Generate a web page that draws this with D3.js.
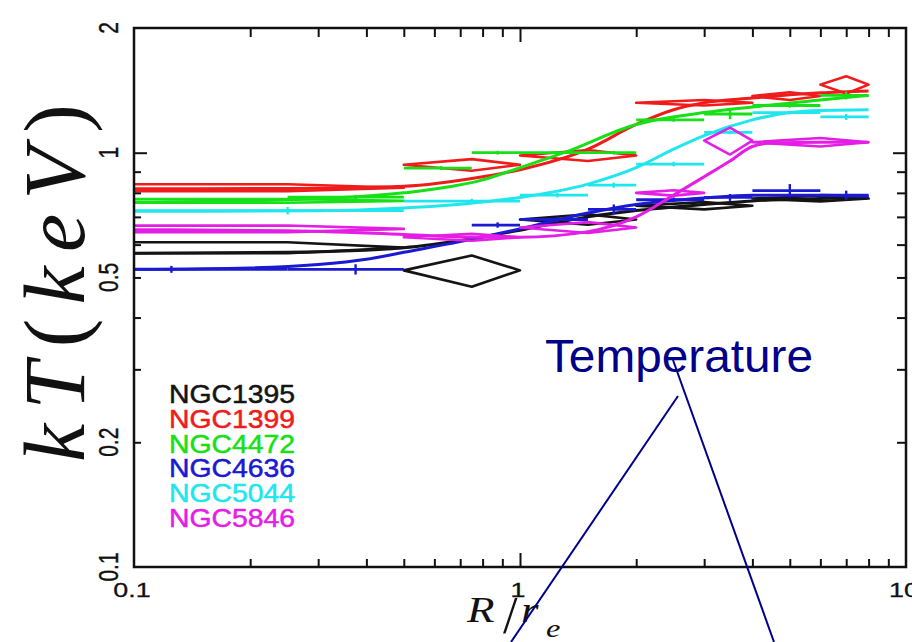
<!DOCTYPE html>
<html><head><meta charset="utf-8">
<script src="https://cdn.jsdelivr.net/npm/d3@7"></script>
<style>html,body{margin:0;padding:0;background:#fff;overflow:hidden}</style>
</head><body><svg id="c" width="912" height="642"></svg>
<script>
// ---------------- data ----------------
const galaxies = ["NGC1395","NGC1399","NGC4472","NGC4636","NGC5044","NGC5846"];
const colors   = ["#141414","#f01c1c","#16e016","#1a1ad2","#20e6ee","#e41ee4"];

// diamonds: [rmin, rmax, kT, err]   (rmin 0 => starts at centre)
const diamonds_NGC1395 = [[0,0.5,0.59,0.018],[0.5,1,0.52,0.045],[1,2,0.69,0.02],[2,4,0.745,0.015],[4,8,0.775,0.012]];
const diamonds_NGC1399 = [[0,0.5,0.823,0.016],[0.5,1,0.935,0.03],[1,2,0.985,0.03],[2,4,1.32,0.02],[4,6,1.37,0.03],[6,8,1.46,0.07]];
const diamonds_NGC4472 = [[0,0.5,0.765,0.008]];
const diamonds_NGC4636 = [];
const diamonds_NGC5044 = [];
const diamonds_NGC5846 = [[0,0.5,0.655,0.012],[0.5,1,0.625,0.012],[1,2,0.66,0.02],[2,3,0.80,0.012],[3,4,1.07,0.08],[4,8,1.06,0.025]];

// projected model bars: [rmin, rmax, kT, tick half-height]
const bars_NGC1395 = [];
const bars_NGC1399 = [];
const bars_NGC4472 = [[0.25,0.5,0.781,0.01],[0.5,0.75,0.918,0.01],[0.75,1,1.0,0.01],[1,1.5,1.0,0.01],[1.5,2,1.0,0.01],[2,3,1.2,0.012],[3,4,1.24,0.035],[4,6,1.3,0.015],[6,8,1.375,0.03]];
const bars_NGC4636 = [[0,0.25,0.523,0.01],[0.25,0.5,0.523,0.015],[0.75,1,0.669,0.01],[1,1.5,0.69,0.01],[1.5,2,0.73,0.02],[2,3,0.77,0.01],[3,4,0.78,0.015],[4,6,0.81,0.03],[6,8,0.79,0.02]];
const bars_NGC5044 = [[0,0.5,0.725,0.015],[0.5,1,0.764,0.01],[1,1.5,0.79,0.01],[1.5,2,0.835,0.012],[2,3,0.939,0.012],[3,4,1.12,0.012],[4,6,1.25,0.012],[6,8,1.22,0.02]];
const bars_NGC5846 = [];

// smooth model curves: [r, kT]
const curve_NGC1395 = [[0.1,0.572],[0.25,0.575],[0.5,0.59],[0.75,0.62],[1,0.65],[1.5,0.70],[2,0.725],[3,0.75],[4,0.765],[6,0.775],[8,0.78]];
const curve_NGC1399 = [[0.1,0.818],[0.25,0.82],[0.5,0.83],[0.8,0.875],[1,0.91],[1.5,1.02],[2,1.17],[2.5,1.27],[3,1.32],[4,1.355],[5,1.38],[6,1.395],[8,1.41]];
const curve_NGC4472 = [[0.1,0.76],[0.25,0.77],[0.5,0.80],[0.8,0.86],[1,0.92],[1.3,1.0],[2,1.17],[3,1.25],[4,1.29],[6,1.34],[8,1.375]];
const curve_NGC4636 = [[0.1,0.523],[0.2,0.527],[0.3,0.537],[0.4,0.553],[0.5,0.575],[0.7,0.61],[1,0.655],[1.5,0.715],[2,0.75],[3,0.778],[4,0.79],[6,0.79],[8,0.785]];
const curve_NGC5044 = [[0.1,0.722],[0.3,0.724],[0.5,0.735],[0.8,0.76],[1,0.78],[1.5,0.84],[2,0.92],[2.5,1.02],[3,1.1],[4,1.2],[5,1.25],[6,1.265],[8,1.27]];
const curve_NGC5846 = [[0.1,0.652],[0.25,0.648],[0.5,0.635],[0.8,0.625],[1,0.625],[1.5,0.645],[2,0.70],[2.5,0.79],[3,0.875],[3.5,0.955],[4,1.035],[4.5,1.055],[6,1.06],[8,1.06]];

const xMajorTicks = [1];
const xMinorTicks = [0.2,0.3,0.4,0.5,0.6,0.7,0.8,0.9,2,3,4,5,6,7,8,9];
const xTickLabels = [[0.1,"0.1"],[1,"1"],[10,"10"]];
const yMajorTicks = [1];
const yMinorTicks = [0.2,0.3,0.4,0.5,0.6,0.7,0.8,0.9];
const yTickLabels = [[0.1,"0.1"],[0.2,"0.2"],[0.5,"0.5"],[1,"1"],[2,"2"]];

// ---------------- drawing ----------------
const svg = d3.select("#c");
const x = d3.scaleLog().domain([0.1,10]).range([134,906]);
const y = d3.scaleLog().domain([0.1,2]).range([567,28]);

svg.append("rect").attr("width",912).attr("height",642).attr("fill","#fff");
svg.append("defs").append("clipPath").attr("id","pc")
  .append("rect").attr("x",134).attr("y",28).attr("width",772).attr("height",539);

const diamondsAll = [diamonds_NGC1395,diamonds_NGC1399,diamonds_NGC4472,diamonds_NGC4636,diamonds_NGC5044,diamonds_NGC5846];
const barsAll = [bars_NGC1395,bars_NGC1399,bars_NGC4472,bars_NGC4636,bars_NGC5044,bars_NGC5846];
const curvesAll = [curve_NGC1395,curve_NGC1399,curve_NGC4472,curve_NGC4636,curve_NGC5044,curve_NGC5846];

const g = svg.append("g").attr("clip-path","url(#pc)");
const leftX = x.range()[0] - 30;

function diamondPts(d){
  const [r0,r1,t,e] = d, m = (r0+r1)/2;
  const xm = x(m), xr = x(r1);
  if (r0 > 0) { const xl = x(r0); return [[xl,y(t)],[xm,y(t+e)],[xr,y(t)],[xm,y(t-e)]]; }
  return [[leftX,y(t+e)],[xm,y(t+e)],[xr,y(t)],[xm,y(t-e)],[leftX,y(t-e)]];
}
const curveLine = d3.line().x(d=>x(d[0])).y(d=>y(d[1])).curve(d3.curveMonotoneX);

galaxies.forEach((name,i)=>{
  const c = colors[i];
  const gg = g.append("g").attr("class",name);
  gg.selectAll("path.dia").data(diamondsAll[i]).join("path").attr("class","dia")
    .attr("d", d => d3.line()(diamondPts(d)) + "Z")
    .attr("fill","none").attr("stroke",c).attr("stroke-width",2.6).attr("stroke-linejoin","round");
  const b = gg.selectAll("g.bar").data(barsAll[i]).join("g").attr("class","bar");
  b.append("line").attr("x1",d=>d[0]>0?x(d[0]):leftX).attr("x2",d=>x(d[1]))
    .attr("y1",d=>y(d[2])).attr("y2",d=>y(d[2])).attr("stroke",c).attr("stroke-width",2.8);
  b.append("line").attr("x1",d=>x((d[0]+d[1])/2)).attr("x2",d=>x((d[0]+d[1])/2))
    .attr("y1",d=>y(d[2]-d[3])).attr("y2",d=>y(d[2]+d[3])).attr("stroke",c).attr("stroke-width",2.4);
  gg.append("path").datum(curvesAll[i]).attr("d",curveLine)
    .attr("fill","none").attr("stroke",c).attr("stroke-width",3);
});

// axes ticks (inward, mirrored)
function ticks(axis, vals, size, tr){
  const a = svg.append("g").attr("transform",tr).call(axis.tickValues(vals).tickSize(size).tickFormat(""));
  a.select(".domain").remove();
  a.selectAll("line").attr("stroke","#111").attr("stroke-width",2);
}
ticks(d3.axisBottom(x), xMinorTicks, -8, "translate(0,567)");
ticks(d3.axisBottom(x), xMajorTicks, -14, "translate(0,567)");
ticks(d3.axisTop(x), xMinorTicks, -9, "translate(0,28)");
ticks(d3.axisTop(x), xMajorTicks, -14, "translate(0,28)");
ticks(d3.axisLeft(y), yMinorTicks, -7, "translate(134,0)");
ticks(d3.axisLeft(y), yMajorTicks, -13, "translate(134,0)");
ticks(d3.axisRight(y), yMinorTicks, -9, "translate(906,0)");
ticks(d3.axisRight(y), yMajorTicks, -13, "translate(906,0)");

svg.append("rect").attr("x",134).attr("y",28).attr("width",772).attr("height",539)
  .attr("fill","none").attr("stroke","#111").attr("stroke-width",2.5);

// tick labels
svg.selectAll("text.xt").data(xTickLabels).join("text").attr("class","xt")
  .attr("transform",d=>`translate(${x(d[0])-2},597) scale(1.28,1)`)
  .attr("text-anchor","middle").attr("font-family","Liberation Sans, Arial, sans-serif")
  .attr("font-size",21).attr("fill","#111").attr("stroke","#111").attr("stroke-width",0.3).text(d=>d[1]);
svg.selectAll("text.yt").data(yTickLabels).join("text").attr("class","yt")
  .attr("transform",d=>`translate(118,${y(d[0])}) rotate(-90) scale(1,1.28)`)
  .attr("text-anchor","middle").attr("font-family","Liberation Sans, Arial, sans-serif")
  .attr("font-size",21).attr("fill","#111").attr("stroke","#111").attr("stroke-width",0.3).text(d=>d[1]);

// legend
svg.selectAll("text.leg").data(galaxies).join("text").attr("class","leg")
  .attr("x",169).attr("y",(d,i)=>403+i*24.8)
  .attr("font-family","Liberation Sans, Arial, sans-serif").attr("font-size",25)
  .attr("textLength",126).attr("lengthAdjust","spacingAndGlyphs")
  .attr("fill",(d,i)=>colors[i]).attr("stroke",(d,i)=>colors[i]).attr("stroke-width",0.5).text(d=>d);

// y axis title kT(keV): thin serif, spaced out along y 95..470, baseline near x=82
const yt = svg.append("text").attr("font-family","Liberation Serif, Times New Roman, serif")
  .attr("font-size",86).attr("fill","#111");
yt.append("tspan").attr("font-style","italic").text("kT");
yt.append("tspan").text("(");
yt.append("tspan").attr("font-style","italic").text("keV");
yt.append("tspan").text(")");
{
  const w0 = yt.node().getComputedTextLength();
  const ls = Math.max(0, (372 - w0) / 7);
  yt.attr("letter-spacing", ls);
  const bb = yt.node().getBBox();
  const mid = bb.x + (bb.width - ls) / 2;
  yt.attr("transform",`translate(84,${283 + mid}) rotate(-90)`);
}

// x axis title R/r_e
function piece(txt, tx, ty, fs, ital, sxx){
  svg.append("text").attr("transform",`translate(${tx},${ty}) scale(${sxx},1)`)
    .attr("font-family","Liberation Serif, Times New Roman, serif").attr("font-size",fs)
    .attr("font-style",ital?"italic":"normal").attr("fill","#111").text(txt);
}
piece("R",467,622,36,true,1.25);
piece("/",503,633,52,false,1.0);
piece("r",521,622,36,true,1.25);
piece("e",546,637,26,true,1.25);

// annotation
svg.append("text").attr("x",545).attr("y",372).attr("font-family","Liberation Sans, Arial, sans-serif")
  .attr("font-size",46).attr("fill","#00008a").attr("textLength",268).attr("lengthAdjust","spacingAndGlyphs").text("Temperature");
svg.append("line").attr("x1",678).attr("y1",396).attr("x2",511).attr("y2",642).attr("stroke","#00008a").attr("stroke-width",2);
svg.append("line").attr("x1",673).attr("y1",360).attr("x2",774).attr("y2",642).attr("stroke","#00008a").attr("stroke-width",2);
</script></body></html>
